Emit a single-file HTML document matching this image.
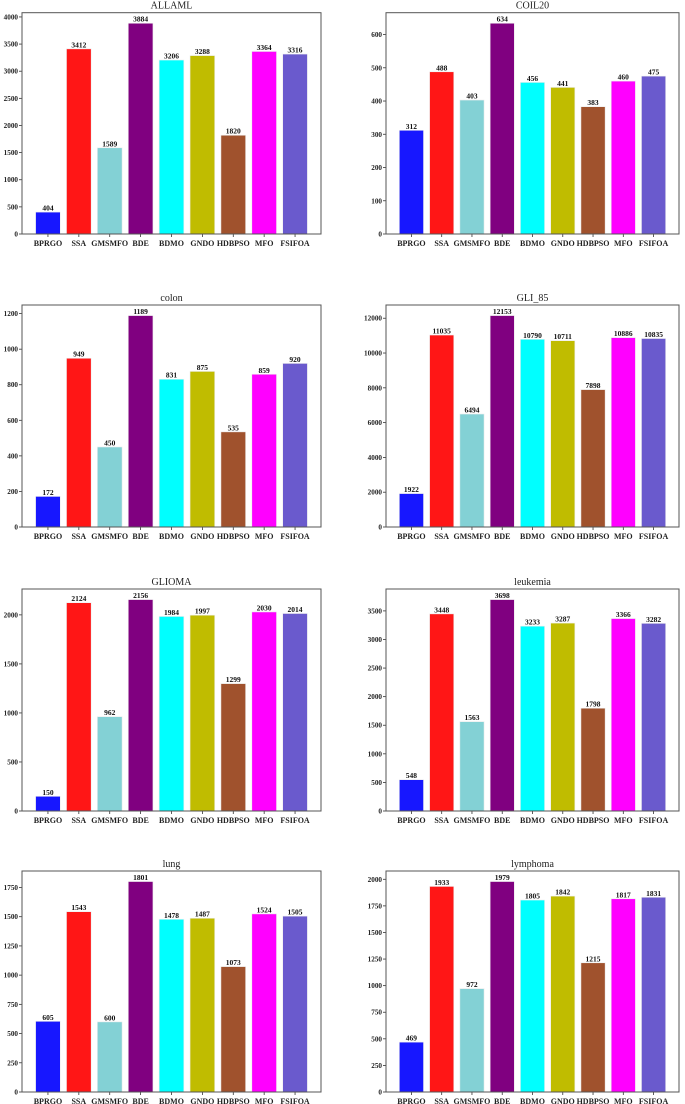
<!DOCTYPE html>
<html><head><meta charset="utf-8">
<style>
html,body{margin:0;padding:0;background:#fff;}
svg{display:block;font-family:"Liberation Serif",serif;}
</style></head>
<body>
<svg id="fig" width="685" height="1104" viewBox="0 0 685 1104"></svg>
<script>
const categories = ["BPRGO","SSA","GMSMFO","BDE","BDMO","GNDO","HDBPSO","MFO","FSIFOA"];
const colors = ["#1717ff","#ff1616","#83d1d5","#800080","#00ffff","#c0bc00","#a0522d","#ff00ff","#6a5acd"];
const titles = ["ALLAML","COIL20","colon","GLI_85","GLIOMA","leukemia","lung","lymphoma"];
const vAllaml = [404,3412,1589,3884,3206,3288,1820,3364,3316];
const vCoil20 = [312,488,403,634,456,441,383,460,475];
const vColon = [172,949,450,1189,831,875,535,859,920];
const vGli85 = [1922,11035,6494,12153,10790,10711,7898,10886,10835];
const vGlioma = [150,2124,962,2156,1984,1997,1299,2030,2014];
const vLeukemia = [548,3448,1563,3698,3233,3287,1798,3366,3282];
const vLung = [605,1543,600,1801,1478,1487,1073,1524,1505];
const vLymphoma = [469,1933,972,1979,1805,1842,1215,1817,1831];
const tickSteps = [500,100,200,2000,500,500,250,250];
const series = [vAllaml,vCoil20,vColon,vGli85,vGlioma,vLeukemia,vLung,vLymphoma];

const NS="http://www.w3.org/2000/svg";
const svg=document.getElementById('fig');
function mk(tag,attrs,parent){const e=document.createElementNS(NS,tag);for(const k in attrs)e.setAttribute(k,attrs[k]);(parent||svg).appendChild(e);return e;}
const colX=[[22,321],[386,679]];
const rowY=[[12.7,234],[305,527],[589,811],[871,1092]];

series.forEach((vals,i)=>{
  const [x0,x1]=colX[i%2];const [y0,y1]=rowY[Math.floor(i/2)];
  const g=mk('g',{});
  
  
  const ymax=Math.max(...vals)*1.05;
  const ys=v=>y1-(v/ymax)*(y1-y0);
  const xs=c=>x0+(c+0.84)/9.68*(x1-x0);
  const bw=0.8/9.68*(x1-x0);
  const t=mk('text',{x:(x0+x1)/2,y:y0-4,'text-anchor':'middle','font-size':'10',fill:'#222'},g);
  t.textContent=titles[i];
  
  
  const step=tickSteps[i];
  for(let v=0;v<=ymax;v+=step){
    const y=ys(v);
    mk('line',{x1:x0-3,x2:x0,y1:y,y2:y,stroke:'#333','stroke-width':'0.8'},g);
    const tl=mk('text',{x:x0-4,y:y+2.5,'text-anchor':'end','font-size':'7.2','font-weight':'bold',fill:'#222'},g);
    tl.textContent=v;
    
    
  }
  vals.forEach((v,c)=>{
    const cx=xs(c);
    const r=mk('rect',{x:cx-bw/2,y:ys(v),width:bw,height:y1-ys(v),fill:colors[c],stroke:'#eee','stroke-width':'0.6'},g);
    
    
    const lb=mk('text',{x:cx,y:ys(v)-1.5,'text-anchor':'middle','font-size':'7.5','font-weight':'bold',fill:'#111'},g);
    lb.textContent=v;
    
    
    mk('line',{x1:cx,x2:cx,y1:y1,y2:y1+3,stroke:'#333','stroke-width':'0.8'},g);
    const xl=mk('text',{x:cx,y:y1+12,'text-anchor':'middle','font-size':'8','font-weight':'bold',fill:'#222'},g);
    xl.textContent=categories[c];
    
    
  });
  const fr=mk('rect',{x:x0,y:y0,width:x1-x0,height:y1-y0,fill:'none',stroke:'#555','stroke-width':'1'},g);
  
  
});
</script>
</body></html>
